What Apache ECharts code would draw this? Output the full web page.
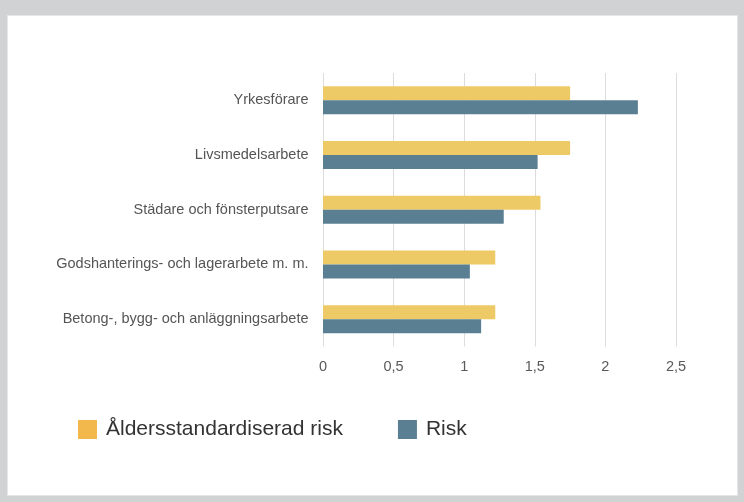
<!DOCTYPE html>
<html>
<head>
<meta charset="utf-8">
<script src="https://cdn.jsdelivr.net/npm/echarts@6/dist/echarts.min.js"></script>
<style>
  html, body { margin: 0; padding: 0; background: #d1d2d4; }
  #frame { position: absolute; left: 7px; top: 15px; width: 729px; height: 479px; background: #fff; border: 1px solid #e6e6e6; }
  #chart { width: 729px; height: 479px; }
</style>
</head>
<body>
<div id="frame"><div id="chart"></div></div>
<script>
// yrken, uppifrån och ned
const categories = ['Yrkesförare', 'Livsmedelsarbete', 'Städare och fönsterputsare', 'Godshanterings- och lagerarbete m. m.', 'Betong-, bygg- och anläggningsarbete'];
const alderRisk = [1.75, 1.75, 1.54, 1.22, 1.22];
const risk = [2.23, 1.52, 1.28, 1.04, 1.12];
const xTicks = [0, 0.5, 1, 1.5, 2, 2.5];

const chart = echarts.init(document.getElementById('chart'));
chart.setOption({
    animation: false,
    grid: { left: 315, top: 57, width: 353, height: 273.5 },
    xAxis: {
        type: 'value',
        min: xTicks[0],
        max: xTicks[xTicks.length - 1],
        interval: 0.5,
        axisLine: { show: false },
        axisTick: { show: false },
        splitLine: { show: true, lineStyle: { color: '#dcdcdc', width: 1 } },
        axisLabel: {
            color: '#595959',
            fontSize: 14.5,
            fontFamily: 'Liberation Sans',
            margin: 13,
            formatter: v => String(v).replace('.', ',')
        }
    },
    yAxis: {
        type: 'category',
        data: categories,
        inverse: true,
        axisLine: { show: false },
        axisTick: { show: false },
        axisLabel: { color: '#555', fontSize: 14.5, fontFamily: 'Liberation Sans', margin: 14.5 }
    },
    legend: {
        left: 65,
        top: 398,
        itemWidth: 19,
        itemHeight: 19,
        itemGap: 55,
        icon: 'rect',
        textStyle: { color: '#333', fontSize: 21, fontFamily: 'Liberation Sans', padding: [0, 0, 0, 4] },
        data: [
            { name: 'Åldersstandardiserad risk', itemStyle: { color: '#f2b84c' } },
            { name: 'Risk', itemStyle: { color: '#5b7f92' } }
        ]
    },
    series: [
        {
            name: 'Åldersstandardiserad risk',
            type: 'bar',
            data: alderRisk,
            barWidth: 14,
            barGap: '0%',
            itemStyle: { color: '#eeca66' }
        },
        {
            name: 'Risk',
            type: 'bar',
            data: risk,
            barWidth: 14,
            barGap: '0%',
            itemStyle: { color: '#5b7f92' }
        }
    ]
});
</script>
</body>
</html>
